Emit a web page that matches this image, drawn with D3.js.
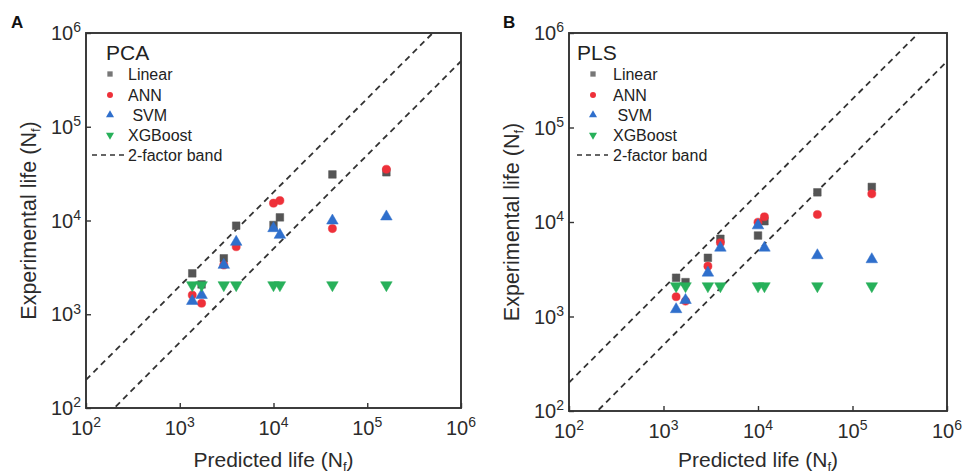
<!DOCTYPE html>
<html>
<head>
<meta charset="utf-8">
<script src="https://cdn.jsdelivr.net/npm/d3@7"></script>
<style>
  html, body { margin: 0; padding: 0; background: #fff; }
  svg { display: block; font-family: "Liberation Sans", Arial, sans-serif; }
</style>
</head>
<body>
<svg width="965" height="473"></svg>
<script>
// Predicted vs experimental fatigue life, two panels (PCA / PLS)

// Shared x positions (predicted life) for every series
const predicted = [1360, 1710, 2950, 4000, 10000, 11700, 42500, 160000];

// Panel A - PCA
const pcaLinear = [2730, 2080, 3950, 8800, 8950, 10800, 31000, 32700];
const pcaANN = [1600, 1310, 3350, 5250, 15300, 16300, 8200, 35200];
const pcaSVM = [1380, 1600, 3350, 5900, 8250, 7000, 9950, 11000];
const pcaXGB = [2050, 2050, 2050, 2050, 2050, 2050, 2050, 2050];

// Panel B - PLS
const plsLinear = [2570, 2310, 4180, 6640, 7190, 10200, 20600, 23500];
const plsANN = [1620, 1455, 3410, 6030, 9950, 11350, 12000, 19850];
const plsSVM = [1190, 1490, 2900, 5330, 9180, 5330, 4430, 4020];
const plsXGB = [2100, 2100, 2100, 2100, 2100, 2100, 2100, 2100];

const seriesNames = ["Linear", "ANN", " SVM", "XGBoost"];
const decades = [1e2, 1e3, 1e4, 1e5, 1e6];
const bandFactor = 2;

const colors = ["#555555", "#ee3039", "#2f6fcc", "#27b05a"];
const shapes = [d3.symbolSquare, d3.symbolCircle, d3.symbolTriangle, d3.symbolTriangle];
const rotations = [0, 0, 0, 180];

const svg = d3.select("svg");
const textColor = "#2b2b2b";

function drawPanel(cfg) {
  const g = svg.append("g");

  const x = d3.scaleLog().domain([1e2, 1e6]).range([cfg.left, cfg.right]);
  const y = d3.scaleLog().domain([1e2, 1e6]).range([cfg.bottom, cfg.top]);

  // clip for the band lines
  const clipId = "clip-" + cfg.letter;
  g.append("clipPath").attr("id", clipId)
    .append("rect")
    .attr("x", cfg.left).attr("y", cfg.top)
    .attr("width", cfg.right - cfg.left).attr("height", cfg.bottom - cfg.top);

  // 2-factor band
  const bands = [bandFactor, 1 / bandFactor];
  g.append("g").attr("clip-path", `url(#${clipId})`)
    .selectAll("line")
    .data(bands)
    .join("line")
    .attr("x1", x(1e2)).attr("y1", (f) => y(1e2 * f))
    .attr("x2", x(1e6)).attr("y2", (f) => y(1e6 * f))
    .attr("stroke", "#333")
    .attr("stroke-width", 1.8)
    .attr("stroke-dasharray", "6,4.5");

  // axes with inward ticks
  const xAxis = g.append("g")
    .attr("transform", `translate(0,${cfg.bottom})`)
    .call(d3.axisBottom(x).tickValues(decades).tickSizeInner(-5).tickSizeOuter(0).tickFormat(""));
  const yAxis = g.append("g")
    .attr("transform", `translate(${cfg.left},0)`)
    .call(d3.axisLeft(y).tickValues(decades).tickSizeInner(-5).tickSizeOuter(0).tickFormat(""));
  [xAxis, yAxis].forEach((ax) => {
    ax.select(".domain").remove();
    ax.selectAll("line").attr("stroke", "#333").attr("stroke-width", 1.4);
  });

  // tick labels as 10^n
  function powerLabel(sel, d) {
    sel.append("tspan").text("10");
    sel.append("tspan")
      .attr("dy", "-0.55em")
      .attr("font-size", "14px")
      .text(Math.round(Math.log10(d)));
  }
  g.append("g").selectAll("text")
    .data(decades)
    .join("text")
    .attr("x", (d) => x(d))
    .attr("y", cfg.bottom + 27)
    .attr("text-anchor", "middle")
    .attr("font-size", "20px")
    .attr("fill", textColor)
    .each(function (d) { powerLabel(d3.select(this), d); });

  g.append("g").selectAll("text")
    .data(decades)
    .join("text")
    .attr("x", cfg.left - 5)
    .attr("y", (d) => y(d) + 7)
    .attr("text-anchor", "end")
    .attr("font-size", "20px")
    .attr("fill", textColor)
    .each(function (d) { powerLabel(d3.select(this), d); });

  // frame
  g.append("rect")
    .attr("x", cfg.left).attr("y", cfg.top)
    .attr("width", cfg.right - cfg.left).attr("height", cfg.bottom - cfg.top)
    .attr("fill", "none")
    .attr("stroke", "#333")
    .attr("stroke-width", 1.9);

  // data points
  cfg.series.forEach((vals, i) => {
    const sym = d3.symbol().type(shapes[i]).size(i === 1 ? 52 : 58);
    g.append("g").selectAll("path")
      .data(vals.map((v, j) => ({ px: predicted[j], ey: v })))
      .join("path")
      .attr("d", sym)
      .attr("transform", (d) => `translate(${x(d.px)},${y(d.ey)}) rotate(${rotations[i]})`)
      .attr("fill", colors[i])
      .attr("stroke", colors[i])
      .attr("stroke-opacity", 0.5)
      .attr("stroke-width", 1);
  });

  // legend
  const leg = cfg.legend;
  g.append("text")
    .attr("x", leg.titleX).attr("y", 60)
    .attr("font-size", "21px")
    .attr("fill", "#222")
    .text(cfg.method);

  const rowY = [74, 95, 115, 135, 155];
  seriesNames.forEach((name, i) => {
    g.append("path")
      .attr("d", d3.symbol().type(shapes[i]).size(28))
      .attr("transform", `translate(${leg.markerX},${rowY[i]}) rotate(${rotations[i]})`)
      .attr("fill", i === 0 ? "#777" : colors[i]);
    g.append("text")
      .attr("x", leg.textX).attr("y", rowY[i] + 6)
      .attr("font-size", "16px")
      .attr("fill", "#222")
      .attr("xml:space", "preserve")
      .style("white-space", "pre")
      .text(name);
  });
  g.append("line")
    .attr("x1", leg.dashX1).attr("x2", leg.dashX2)
    .attr("y1", rowY[4]).attr("y2", rowY[4])
    .attr("stroke", "#333")
    .attr("stroke-width", 1.6)
    .attr("stroke-dasharray", "5,4");
  g.append("text")
    .attr("x", leg.textX).attr("y", rowY[4] + 6)
    .attr("font-size", "16px")
    .attr("fill", "#222")
    .text("2-factor band");

  // axis titles
  const xt = g.append("text")
    .attr("x", (cfg.left + cfg.right) / 2)
    .attr("y", 467)
    .attr("text-anchor", "middle")
    .attr("font-size", "21px")
    .attr("fill", textColor);
  xt.append("tspan").text("Predicted life (N");
  xt.append("tspan").attr("font-size", "13px").attr("dy", "4").text("f");
  xt.append("tspan").attr("dy", "-4").text(")");

  const yt = g.append("text")
    .attr("transform", `translate(${cfg.left - 50},${(cfg.top + cfg.bottom) / 2}) rotate(-90)`)
    .attr("text-anchor", "middle")
    .attr("font-size", "21.5px")
    .attr("fill", textColor);
  yt.append("tspan").text("Experimental life (N");
  yt.append("tspan").attr("font-size", "13px").attr("dy", "4").text("f");
  yt.append("tspan").attr("dy", "-4").text(")");

  // panel letter
  g.append("text")
    .attr("x", cfg.letterX).attr("y", 28)
    .attr("font-size", "17px")
    .attr("font-weight", "bold")
    .attr("fill", "#111")
    .text(cfg.letter);
}

drawPanel({
  letter: "A", letterX: 11, method: "PCA",
  left: 86, right: 461, top: 33, bottom: 408,
  series: [pcaLinear, pcaANN, pcaSVM, pcaXGB],
  legend: { titleX: 106, markerX: 110, textX: 128, dashX1: 92, dashX2: 127 },
});

drawPanel({
  letter: "B", letterX: 503, method: "PLS",
  left: 569, right: 947, top: 33, bottom: 411,
  series: [plsLinear, plsANN, plsSVM, plsXGB],
  legend: { titleX: 577, markerX: 593, textX: 613, dashX1: 577, dashX2: 608 },
});
</script>
</body>
</html>
